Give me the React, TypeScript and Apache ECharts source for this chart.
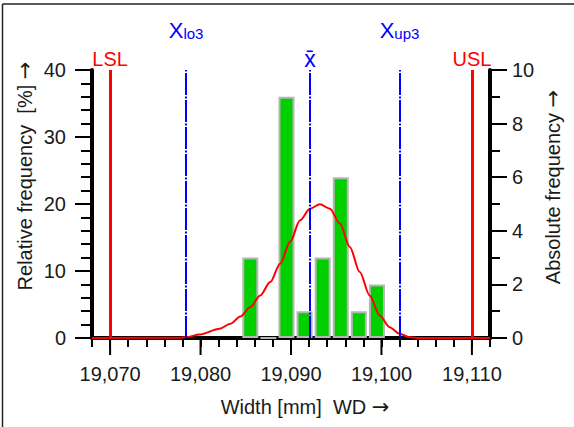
import React, { useEffect, useRef } from "react";
import * as echarts from "echarts";

// ---- data ----
const binCenters = [19.0855, 19.0875, 19.0895, 19.0915, 19.0935, 19.0955, 19.0975, 19.0995];
const counts = [3, 0, 9, 1, 3, 6, 1, 2];

const curveX = [19.068, 19.0776, 19.0784, 19.0799, 19.0821, 19.0833, 19.0844, 19.0855, 19.0866, 19.0877, 19.0888, 19.0899, 19.091, 19.0921, 19.0932, 19.0943, 19.0954, 19.0965, 19.0976, 19.0987, 19.0998, 19.1009, 19.102, 19.1031, 19.104, 19.112];
const curvePct = [0, 0.05, 0.12, 0.52, 1.38, 2.12, 3.21, 4.6, 6.36, 8.34, 11.1, 14.35, 17.57, 19.3, 19.96, 19.3, 17.08, 13.58, 9.84, 6.36, 3.36, 1.61, 0.63, 0.12, 0, 0];

const limitNames = ["LSL", "USL"];
const limitValues = [19.07, 19.11];
const refNames = ["{a|X}{b|lo3}", "{c|x\u0304}", "{a|X}{b|up3}"];
const refValues = [19.0784, 19.0921, 19.102];
const refDistances = [29, 0, 29];

const xMin = 19.068;
const xMax = 19.112;
const xStep = 0.002;
const xMajorTicks = [19.07, 19.08, 19.09, 19.1, 19.11];

const FONT = "'Liberation Sans', Arial, sans-serif";
const ARROWFONT = "'DejaVu Sans', sans-serif";
const TXT = "#1a1a1a";

const titleRich = {
  t: { fontSize: 20, fontFamily: FONT, color: TXT },
  r: { fontSize: 21, fontFamily: ARROWFONT, color: TXT },
};

export default function App() {
  const ref = useRef<HTMLDivElement>(null);
  useEffect(() => {
    document.body.style.margin = "0";
    const chart = echarts.init(ref.current!, null, { renderer: "svg" });
    const blue = "#0000ff";
    const red = "#ff0000";
    const titleText = (x: number, y: number, rot: number, label: string) => ({
      type: "text",
      x,
      y,
      rotation: rot,
      style: {
        text: `{t|${label}}{r|\u2192}`,
        rich: titleRich,
        fill: TXT,
        align: "center",
        verticalAlign: "middle",
        textAlign: "center",
        textVerticalAlign: "middle",
      },
    });
    const option: any = {
      animation: false,
      textStyle: { fontFamily: FONT },
      grid: { left: 92, right: 84, top: 70, bottom: 89, containLabel: false },
      xAxis: [
        {
          type: "value",
          position: "bottom",
          min: xMin,
          max: xMax,
          interval: xStep,
          axisLine: { show: true, lineStyle: { color: "#000", width: 4 } },
          axisTick: { show: true, length: 9, lineStyle: { color: "#000", width: 2 } },
          splitLine: { show: false },
          axisLabel: {
            fontSize: 20,
            color: TXT,
            fontFamily: FONT,
            margin: 26,
            formatter: (v: number) => {
              const m = Math.round(v * 1000);
              return m % 10 === 0 ? v.toFixed(3).replace(".", ",") : "";
            },
          },
        },
        {
          type: "value",
          position: "top",
          min: xMin,
          max: xMax,
          axisLine: { show: true, lineStyle: { color: "#000", width: 2 } },
          axisTick: { show: false },
          axisLabel: { show: false },
          splitLine: { show: false },
        },
      ],
      yAxis: [
        {
          type: "value",
          position: "left",
          min: 0,
          max: 40,
          interval: 10,
          axisLine: { show: true, lineStyle: { color: "#000", width: 4 } },
          axisTick: { show: true, length: 17, lineStyle: { color: "#000", width: 2 } },
          minorTick: { show: true, splitNumber: 5, length: 11, lineStyle: { color: "#000", width: 2 } },
          splitLine: { show: false },
          axisLabel: { fontSize: 20, color: TXT, fontFamily: FONT, margin: 26 },
        },
        {
          type: "value",
          position: "right",
          min: 0,
          max: 10,
          interval: 2,
          axisLine: { show: true, lineStyle: { color: "#000", width: 4 } },
          axisTick: { show: true, length: 17, lineStyle: { color: "#000", width: 2 } },
          minorTick: { show: true, splitNumber: 2, length: 10, lineStyle: { color: "#000", width: 2 } },
          splitLine: { show: false },
          axisLabel: { fontSize: 20, color: TXT, fontFamily: FONT, margin: 22 },
        },
      ],
      series: [
        {
          type: "custom",
          xAxisIndex: 0,
          yAxisIndex: 1,
          clip: false,
          silent: true,
          z: 1,
          data: xMajorTicks.map((v) => [v, 0]),
          renderItem: (params: any, api: any) => {
            const p = api.coord([api.value(0), 0]);
            return {
              type: "line",
              shape: { x1: p[0], y1: p[1], x2: p[0], y2: p[1] + 17 },
              style: { stroke: "#000", lineWidth: 2 },
            };
          },
        },
        {
          type: "bar",
          xAxisIndex: 0,
          yAxisIndex: 1,
          barWidth: 16,
          data: binCenters.map((c, i) => [c, counts[i]]),
          itemStyle: { color: "#00d000", borderColor: "#b5b5b5", borderWidth: 2 },
          z: 3,
        },
        {
          type: "line",
          xAxisIndex: 0,
          yAxisIndex: 0,
          clip: false,
          showSymbol: false,
          smooth: 0.3,
          smoothMonotone: "x",
          data: curveX.map((x, i) => [x, curvePct[i]]),
          lineStyle: { color: red, width: 2 },
          z: 4,
          markLine: {
            silent: true,
            symbol: "none",
            precision: 6,
            animation: false,
            data: [
              ...refValues.map((v, i) => ({
                xAxis: v,
                lineStyle: { color: blue, width: 2, type: [22, 1.5, 2, 1.5] },
                label: {
                  show: true,
                  position: "end",
                  distance: refDistances[i],
                  formatter: refNames[i],
                  rich: {
                    a: { fontSize: 22, lineHeight: 22, color: blue, fontFamily: FONT, verticalAlign: "bottom" },
                    b: { fontSize: 15, lineHeight: 15, color: blue, fontFamily: FONT, verticalAlign: "bottom" },
                    c: { fontSize: 23, lineHeight: 22, color: blue, fontFamily: FONT, verticalAlign: "bottom" },
                  },
                },
              })),
              ...limitValues.map((v, i) => ({
                xAxis: v,
                lineStyle: { color: red, width: 3, type: "solid" },
                label: {
                  show: true,
                  position: "end",
                  distance: 1,
                  formatter: limitNames[i],
                  color: red,
                  fontSize: 20,
                  fontFamily: FONT,
                },
              })),
            ],
          },
        },
      ],
      graphic: [
        {
          type: "line",
          shape: { x1: 2.5, y1: 4, x2: 2.5, y2: 427 },
          style: { stroke: "#222", lineWidth: 1.5 },
        },
        {
          type: "line",
          shape: { x1: 2.5, y1: 4, x2: 574, y2: 4 },
          style: { stroke: "#222", lineWidth: 1.5 },
        },
        titleText(25, 176, Math.PI / 2, "Relative frequency  [%] "),
        titleText(553, 187, Math.PI / 2, "Absolute frequency "),
        titleText(305, 407, 0, "Width [mm]  WD "),
      ],
    };
    chart.setOption(option);
    return () => chart.dispose();
  }, []);
  return <div ref={ref} style={{ width: 574, height: 427, background: "#fff" }} />;
}
